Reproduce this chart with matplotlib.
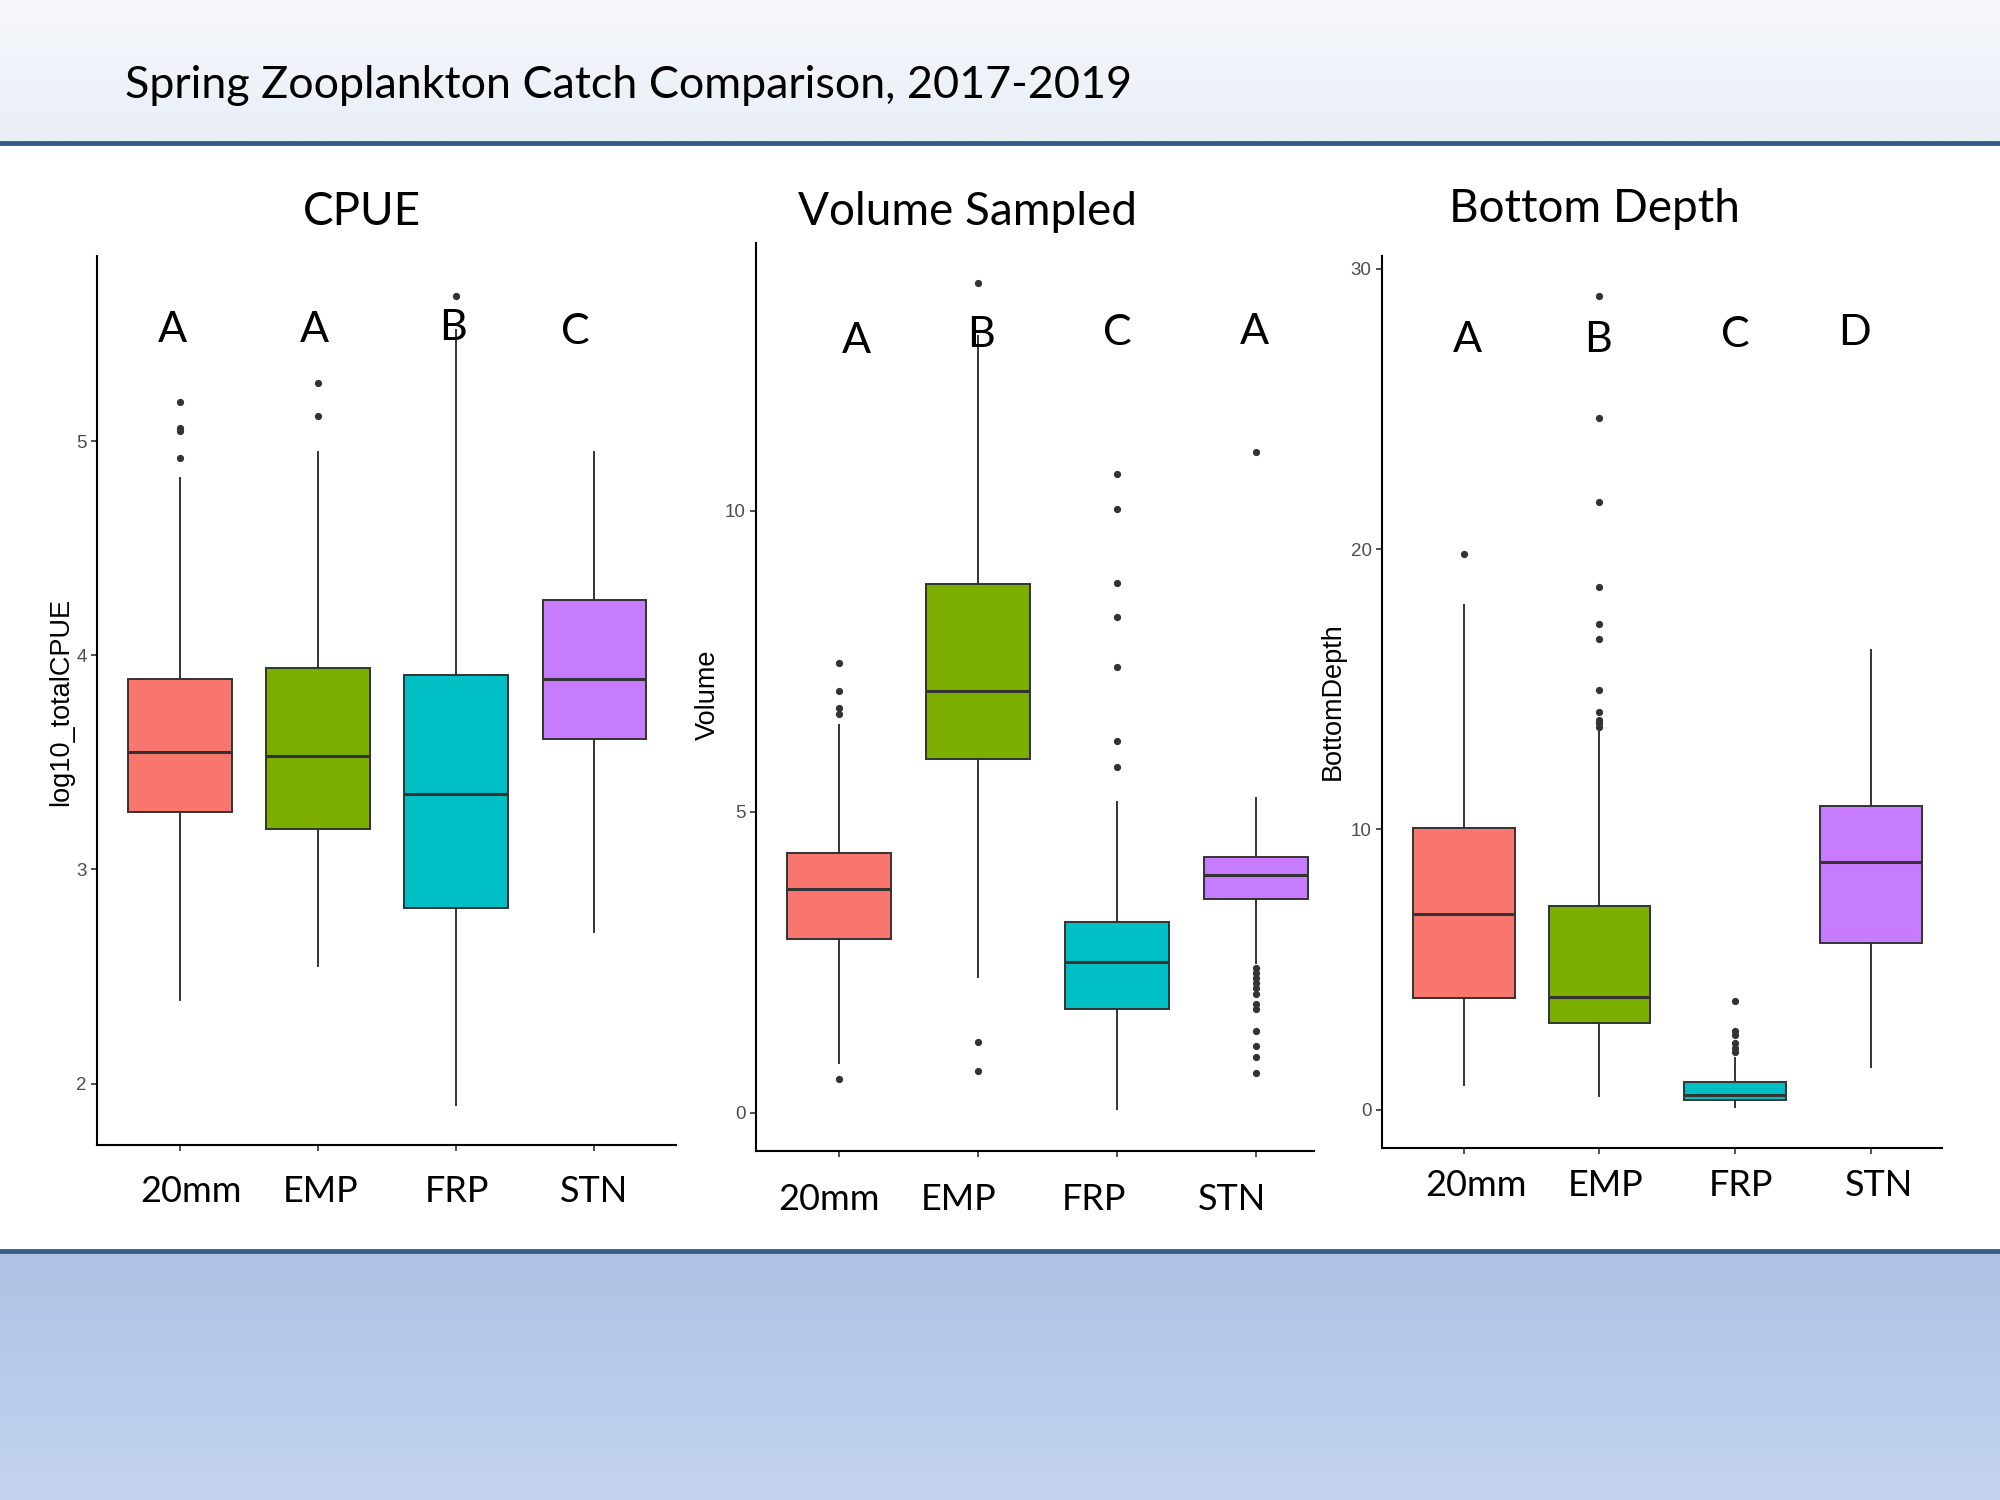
import matplotlib
matplotlib.use("Agg")
import matplotlib.pyplot as plt
import numpy as np

# groups and significance letters
groups = ["20mm", "EMP", "FRP", "STN"]
colors = ["#F8766D", "#7CAE00", "#00BFC4", "#C77CFF"]

# CPUE (log10_totalCPUE): q1, median, q3, whisker low, whisker high
cpue_q1 = [3.27, 3.19, 2.82, 3.61]
cpue_med = [3.55, 3.53, 3.35, 3.89]
cpue_q3 = [3.89, 3.94, 3.91, 4.26]
cpue_wlo = [2.39, 2.55, 1.90, 2.71]
cpue_whi = [4.83, 4.95, 5.52, 4.95]
cpue_fliers = [[5.185, 5.06, 5.05, 4.92], [5.27, 5.12], [5.676], []]
cpue_letters = ["A", "A", "B", "C"]

# Volume sampled
vol_q1 = [2.89, 5.87, 1.73, 3.55]
vol_med = [3.72, 7.00, 2.50, 3.95]
vol_q3 = [4.32, 8.78, 3.17, 4.25]
vol_wlo = [0.82, 2.25, 0.07, 2.49]
vol_whi = [6.45, 12.9, 5.16, 5.23]
vol_fliers = [[7.48, 7.0, 6.72, 6.63, 0.56],
              [13.79, 1.17, 0.69],
              [10.62, 10.03, 8.80, 8.23, 7.40, 6.18, 5.75],
              [10.97, 2.40, 2.32, 2.24, 2.15, 2.07, 1.98, 1.80, 1.72,
               1.35, 1.11, 0.92, 0.66]]
vol_letters = ["A", "B", "C", "A"]

# Bottom depth
bd_q1 = [3.98, 3.09, 0.34, 5.96]
bd_med = [7.00, 4.03, 0.52, 8.85]
bd_q3 = [10.05, 7.26, 1.00, 10.83]
bd_wlo = [0.89, 0.48, 0.11, 1.52]
bd_whi = [17.99, 13.53, 1.86, 16.4]
bd_fliers = [[19.81],
             [29.04, 24.68, 21.67, 18.63, 17.31, 16.8, 14.99, 14.19,
              13.92, 13.8, 13.67],
             [3.89, 2.82, 2.66, 2.39, 2.2, 2.07],
             []]
bd_letters = ["A", "B", "C", "D"]

W, H = 2000, 1500
fig = plt.figure(figsize=(20, 15), dpi=100)

# slide background: header, rules, bottom band
bg = fig.add_axes([0, 0, 1, 1], zorder=-5)
bg.set_xlim(0, W)
bg.set_ylim(H, 0)
bg.axis("off")
grad = np.linspace(0, 1, 100).reshape(-1, 1)
top_cmap = matplotlib.colors.LinearSegmentedColormap.from_list("t", ["#f6f8fc", "#e9eef7"])
bg.imshow(grad, cmap=top_cmap, extent=(0, W, 141, 0), aspect="auto")
bot_cmap = matplotlib.colors.LinearSegmentedColormap.from_list("b", ["#adc2e5", "#c4d4ee"])
bg.imshow(grad, cmap=bot_cmap, extent=(0, W, H, 1251), aspect="auto")
bg.plot([0, W], [143, 143], color="#3a5a8e", lw=3.5)
bg.plot([0, W], [1251, 1251], color="#3a5a8e", lw=3.5)

slide_font = ["Lato", "DejaVu Sans"]
narrow_font = ["Liberation Sans Narrow", "Liberation Sans"]

fig.text(125 / W, 1 - 85 / H, "Spring Zooplankton Catch Comparison, 2017-2019",
         fontsize=32.3, family=slide_font, ha="left", va="center")


def stats(q1, med, q3, wlo, whi, fliers):
    out = []
    for i in range(len(q1)):
        out.append(dict(q1=q1[i], med=med[i], q3=q3[i], whislo=wlo[i],
                        whishi=whi[i], fliers=fliers[i]))
    return out


def panel(rect, st, xlim, ylim, yticks, ylabel, ylab_xy):
    ax = fig.add_axes(rect)
    box = ax.bxp(st, positions=[1, 2, 3, 4], widths=0.75, patch_artist=True,
                 showcaps=False,
                 boxprops=dict(edgecolor="#333333", linewidth=1.4),
                 medianprops=dict(color="#333333", linewidth=2.2),
                 whiskerprops=dict(color="#333333", linewidth=1.4),
                 flierprops=dict(marker="o", markersize=4.2, markerfacecolor="#333333",
                                 markeredgecolor="#333333", linestyle="none"))
    for patch, c in zip(box["boxes"], colors):
        patch.set_facecolor(c)
    ax.set_xlim(*xlim)
    ax.set_ylim(*ylim)
    ax.set_yticks(yticks)
    ax.set_xticks([1, 2, 3, 4])
    ax.set_xticklabels([])
    for s in ["top", "right"]:
        ax.spines[s].set_visible(False)
    for s in ["left", "bottom"]:
        ax.spines[s].set_linewidth(1.5)
        ax.spines[s].set_color("black")
    ax.tick_params(axis="both", length=4, width=1.2, color="#333333",
                   labelsize=13.5, labelcolor="#4d4d4d")
    for lab in ax.get_yticklabels():
        lab.set_family(["Liberation Sans", "DejaVu Sans"])
    fig.text(ylab_xy[0] / W, 1 - ylab_xy[1] / H, ylabel, rotation=90,
             fontsize=19.5, family=narrow_font, ha="center", va="center")
    return ax


panel([97 / W, 1 - 1145 / H, (676 - 97) / W, (1145 - 256) / H],
      stats(cpue_q1, cpue_med, cpue_q3, cpue_wlo, cpue_whi, cpue_fliers),
      (0.4, 4.59), (1.713, 5.865), [2, 3, 4, 5], "log10_totalCPUE", (61, 702))
panel([756 / W, 1 - 1151 / H, (1314 - 756) / W, (1151 - 243) / H],
      stats(vol_q1, vol_med, vol_q3, vol_wlo, vol_whi, vol_fliers),
      (0.4, 4.42), (-0.636, 14.45), [0, 5, 10], "Volume", (708, 695))
panel([1382 / W, 1 - 1148 / H, (1942 - 1382) / W, (1148 - 256) / H],
      stats(bd_q1, bd_med, bd_q3, bd_wlo, bd_whi, bd_fliers),
      (0.4, 4.52), (-1.36, 30.45), [0, 10, 20, 30], "BottomDepth", (1333, 701))

# slide text boxes laid over the plots
titles = [("CPUE", 362, 212), ("Volume Sampled", 967, 212), ("Bottom Depth", 1594, 209)]
for t, x, y in titles:
    fig.text(x / W, 1 - y / H, t, fontsize=33, family=slide_font, ha="center", va="center")

letter_x = [[172, 314, 453, 575], [856, 981, 1117, 1254], [1467, 1598, 1735, 1855]]
letter_y = [[330, 330, 328, 332], [341, 335, 333, 332], [340, 340, 335, 333]]
for letters, xs, ys in zip([cpue_letters, vol_letters, bd_letters], letter_x, letter_y):
    for l, x, y in zip(letters, xs, ys):
        fig.text(x / W, 1 - y / H, l, fontsize=31, family=slide_font, ha="center", va="center")

cat_x = [[191, 321, 457, 594], [829, 959, 1094, 1232], [1476, 1606, 1741, 1879]]
cat_y = [1191, 1199, 1186]
for xs, y in zip(cat_x, cat_y):
    for g, x in zip(groups, xs):
        fig.text(x / W, 1 - y / H, g, fontsize=26, family=slide_font, ha="center", va="center")

fig.savefig("out.png", dpi=100)
